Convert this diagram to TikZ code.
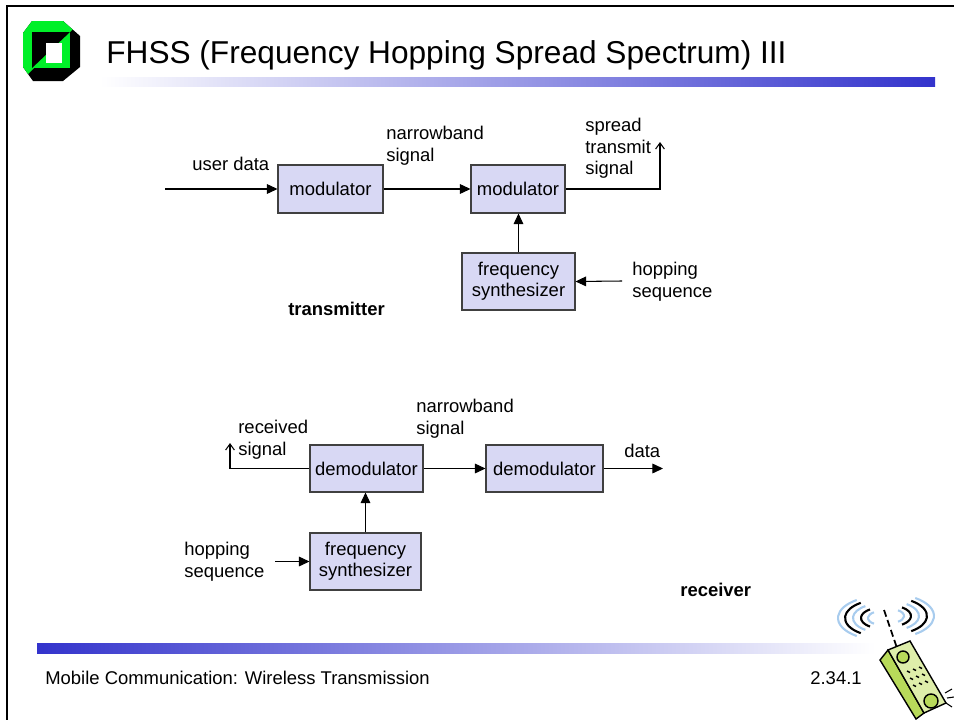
\documentclass[tikz,border=0pt]{standalone}
\usepackage{fontspec}
\setmainfont{Liberation Sans}
\usepackage{xcolor}
\usetikzlibrary{arrows.meta}

\definecolor{boxfill}{RGB}{216,216,244}
\definecolor{barblue}{RGB}{51,51,204}
\definecolor{logogreen}{RGB}{0,240,40}
\definecolor{wave}{RGB}{168,204,238}
\definecolor{phonelight}{RGB}{222,238,170}
\definecolor{phonedark}{RGB}{184,218,90}

\tikzset{
  block/.style={draw=black!75, fill=boxfill, line width=0.6pt, align=center,
    font=\fontsize{10.5}{12.2}\selectfont, inner sep=0pt},
  lbl/.style={anchor=north west, align=left, inner sep=0pt,
    font=\fontsize{10.5}{12.2}\selectfont},
  conn/.style={line width=0.6pt, -{Triangle[length=6pt,width=5.5pt]}},
  openarr/.style={line width=0.6pt, -{Straight Barb[length=3.5pt,width=5pt]}},
}

\begin{document}
\begin{tikzpicture}[x=0.02cm,y=-0.02cm]
	\useasboundingbox (0,0) rectangle (954,720);
	% frame and header
	\draw[line width=1.4pt] (7,720) -- (7,6) -- (954,6);
	\shade[left color=white, right color=barblue] (100,77) rectangle (935,86);
	\shade[left color=barblue, right color=white] (37,643) rectangle (875,653);

	% logo
	\fill[black] (32,21) -- (63,21) -- (80,36) -- (80,67) -- (63,81) -- (33,81) -- (23,67) -- (23,33) -- cycle;
	\begin{scope}
		\clip (0,0) -- (102,0) -- (0,102) -- cycle;
		\fill[logogreen] (32,21) -- (63,21) -- (80,36) -- (80,67) -- (63,81) -- (33,81) -- (23,67) -- (23,33) -- cycle;
	\end{scope}
	\fill[logogreen] (32,32) rectangle (70,68);
	\fill[black] (32,32) -- (70,32) -- (32,68) -- cycle;
	\fill[white] (46,43) rectangle (62,63);

	\node[anchor=base west, inner sep=0pt, font=\fontsize{18}{20}\selectfont] (title) at (106,63)
		{FHSS (Frequency Hopping Spread Spectrum) III};

	% transmitter
	\node[block, minimum width=2.1cm, minimum height=0.96cm] (mod1) at (330.5,189) {modulator};
	\node[block, minimum width=1.88cm, minimum height=0.96cm] (mod2) at (518,189) {modulator};
	\node[block, minimum width=2.26cm, minimum height=1.14cm] (synth1) at (518.5,281.5) {frequency\\synthesizer};
	\coordinate (udin) at (165,189);
	\coordinate (txout) at (660,142);
	\coordinate (hop1) at (622,281);
	\draw[conn] (udin) -- (mod1);
	\draw[conn] (mod1) -- (mod2);
	\draw[openarr] (mod2.east) -| (txout);
	\draw[conn] (synth1) -- (synth1 |- mod2.south);
	\draw[conn] (hop1) -- (synth1.east);
	\node[lbl] (ud) at (192,157) {user data};
	\node[lbl] (nb1) at (386,126) {narrowband\\signal};
	\node[lbl] (sts) at (585,118) {spread\\transmit\\signal};
	\node[lbl] (hs1) at (632,262) {hopping\\sequence};
	\node[lbl, font=\fontsize{10.5}{12.2}\selectfont\bfseries] (tx) at (288,302) {transmitter};

	% receiver
	\node[block, minimum width=2.26cm, minimum height=0.94cm] (demod1) at (366.5,468.5) {demodulator};
	\node[block, minimum width=2.34cm, minimum height=0.94cm] (demod2) at (544.5,468.5) {demodulator};
	\node[block, minimum width=2.22cm, minimum height=1.14cm] (synth2) at (365.5,561.5) {frequency\\synthesizer};
	\coordinate (rxin) at (230,443);
	\coordinate (dataout) at (663,468.5);
	\coordinate (hop2) at (275,561.5);
	\draw[openarr] (demod1.west) -| (rxin);
	\draw[conn] (demod1) -- (demod2);
	\draw[conn] (demod2.east) -- (dataout);
	\draw[conn] (synth2) -- (synth2 |- demod1.south);
	\draw[conn] (hop2) -- (synth2.west);
	\node[lbl] (rs) at (238,420) {received\\signal};
	\node[lbl] (nb2) at (416,399) {narrowband\\signal};
	\node[lbl] (dt) at (624,444) {data};
	\node[lbl] (hs2) at (184,542) {hopping\\sequence};
	\node[lbl, font=\fontsize{10.5}{12.2}\selectfont\bfseries] (rx) at (680,583) {receiver};

	% footer
	\node[anchor=base west, inner sep=0pt, font=\fontsize{10.5}{12}\selectfont] (foot) at (45,684)
		{Mobile Communication: Wireless Transmission};
	\node[anchor=base west, inner sep=0pt, font=\fontsize{10.5}{12}\selectfont] (page) at (810,684) {2.34.1};

	% phone
	\foreach \r/\c in {14/wave, 21/black, 29/wave, 37/black, 44/wave} {
		\draw[\c, line width=1.2pt] (882,618) ++(125:{\r} and {0.5*\r}) arc[start angle=125, end angle=235, x radius=\r, y radius=0.5*\r];
		\draw[\c, line width=1.2pt] (890,616) ++(-55:{\r} and {0.5*\r}) arc[start angle=-55, end angle=55, x radius=\r, y radius=0.5*\r];
	}
	\draw[line width=1pt, dash pattern=on 4pt off 2pt] (884,610) -- (897,648);
	\filldraw[fill=phonedark, line width=0.8pt] (880,660) -- (888,650) -- (924,713) -- (916,719) -- cycle;
	\filldraw[fill=phonelight, line width=0.8pt] (888,650) -- (910,641) -- (946,703) -- (924,713) -- cycle;
	\filldraw[fill=phonedark, line width=0.8pt] (903,657) circle (6);
	\filldraw[fill=phonedark, line width=0.8pt] (931,701) circle (7);
	\foreach \i in {0,1,2} {
		\foreach \j in {0,1,2} {
			\draw[line width=0.8pt] ({907+6*\i+3*\j},{671+7*\j-2*\i}) -- ++(3,1.5);
		}
	}
	\draw[line width=0.6pt] (945,693) -- (952,689) (947,698) -- (954,697) (946,703) -- (952,707);
\end{tikzpicture}
\end{document}
